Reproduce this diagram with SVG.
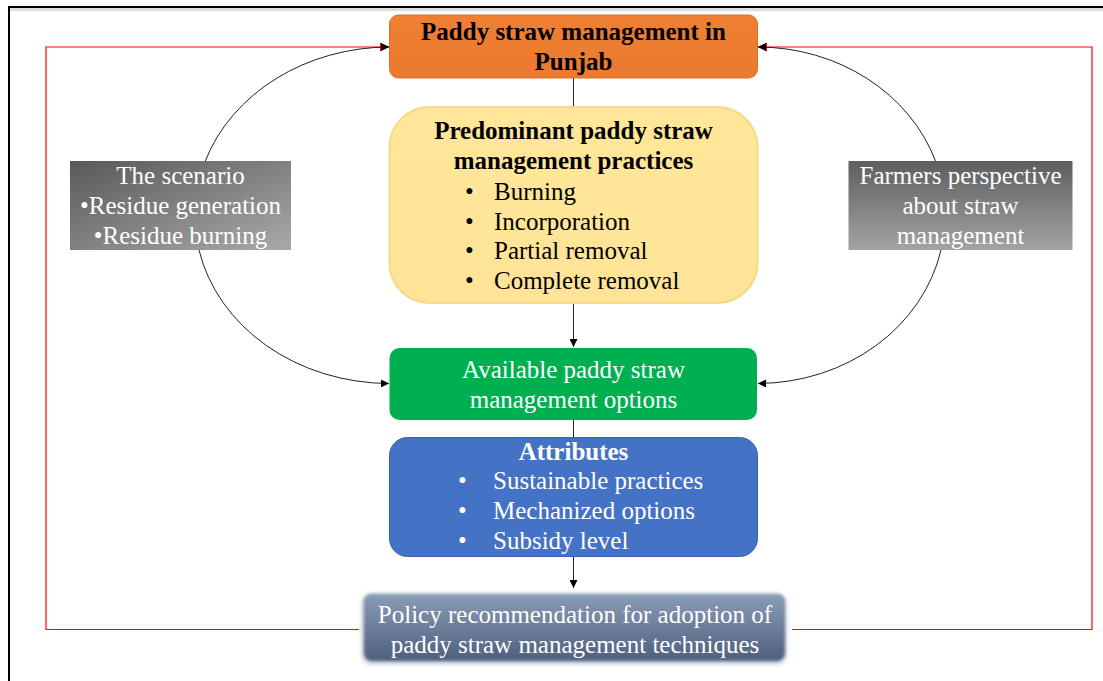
<svg xmlns="http://www.w3.org/2000/svg" width="1103" height="681" viewBox="0 0 1103 681">
<defs>
<style>
.t{font-family:"Liberation Serif","Times New Roman",serif;font-size:25px}
.b{font-weight:bold}
.w{fill:#FFFFFF}
.k{fill:#000000}
.c{text-anchor:middle}
.conn{fill:none;stroke:#222;stroke-width:1}
.red{fill:none;stroke:#FF0000;stroke-width:1.2}
</style>
<marker id="ah" viewBox="0 0 10 10" refX="10" refY="5" markerWidth="8" markerHeight="8" markerUnits="userSpaceOnUse" orient="auto"><path d="M0,0 L10,5 L0,10 z" fill="#000"/></marker>
<marker id="ahr" viewBox="0 0 10 10" refX="10" refY="5" markerWidth="9" markerHeight="9" markerUnits="userSpaceOnUse" orient="auto"><path d="M0,0 L10,5 L0,10 z" fill="#FF0000"/></marker>
<linearGradient id="gl" x1="0" y1="0" x2="1" y2="1"><stop offset="0" stop-color="#595959"/><stop offset="1" stop-color="#A9A9A9"/></linearGradient>
<linearGradient id="gr" x1="0" y1="0" x2="0" y2="1"><stop offset="0" stop-color="#5E5E5E"/><stop offset="1" stop-color="#A3A3A3"/></linearGradient>
<linearGradient id="gp" x1="0" y1="0" x2="0" y2="1"><stop offset="0" stop-color="#8B9CB6"/><stop offset="1" stop-color="#4D5F7C"/></linearGradient>
<linearGradient id="gy" x1="0" y1="0" x2="0" y2="1"><stop offset="0" stop-color="#FFE699"/><stop offset="1" stop-color="#FFE497"/></linearGradient>
<linearGradient id="go" x1="0" y1="0" x2="0" y2="1"><stop offset="0" stop-color="#EE7F33"/><stop offset="1" stop-color="#EA7A2E"/></linearGradient>
<filter id="soft" x="-5%" y="-20%" width="110%" height="140%"><feGaussianBlur stdDeviation="1.6"/></filter>
<filter id="sh" x="-5%" y="-20%" width="110%" height="140%"><feGaussianBlur stdDeviation="2.5"/></filter>
</defs>
<rect x="0" y="0" width="1103" height="681" fill="#FFFFFF"/>
<g id="frame">
<line x1="8" y1="9.5" x2="1103" y2="9.5" stroke="#DDDDDD" stroke-width="3"/>
<line x1="8" y1="7" x2="1103" y2="7" stroke="#000" stroke-width="2"/>
<line x1="9" y1="6" x2="9" y2="681" stroke="#000" stroke-width="2"/>
</g>
<g id="connectors">
<path class="red" d="M359,629.5 H46 V47 H389" marker-end="url(#ahr)"/>
<path class="red" d="M792,629.5 H1092 V47 H758" marker-end="url(#ahr)"/>
<path class="conn" d="M205.3,161 A195,168 0 0 1 389,47" marker-end="url(#ah)"/>
<path class="conn" d="M199,250 A195,168 0 0 0 389,383.5" marker-end="url(#ah)"/>
<path class="conn" d="M935.5,161 A188,168 0 0 0 758,47" marker-end="url(#ah)"/>
<path class="conn" d="M941,250 A188,168 0 0 1 758,383.5" marker-end="url(#ah)"/>
<line class="conn" x1="573.5" y1="77" x2="573.5" y2="108"/>
<line class="conn" x1="573.5" y1="303" x2="573.5" y2="347" marker-end="url(#ah)"/>
<line class="conn" x1="573.5" y1="420" x2="573.5" y2="438"/>
<line class="conn" x1="573.5" y1="556" x2="573.5" y2="588" marker-end="url(#ah)"/>
</g>
<g id="n-title">
<rect x="389.5" y="15" width="368" height="63" rx="9" fill="url(#go)" stroke="#E07025" stroke-width="1"/>
<text class="t b k c" x="573.5" y="40">Paddy straw management in</text>
<text class="t b k c" x="573.5" y="70">Punjab</text>
</g>
<g id="n-practices">
<rect x="389.5" y="107" width="368" height="196" rx="40" fill="url(#gy)" stroke="#F6D986" stroke-width="2"/>
<text class="t b k c" x="573.5" y="139">Predominant paddy straw</text>
<text class="t b k c" x="573.5" y="169">management practices</text>
<text class="t k" x="465" y="200">•</text><text class="t k" x="494" y="200">Burning</text>
<text class="t k" x="465" y="230">•</text><text class="t k" x="494" y="230">Incorporation</text>
<text class="t k" x="465" y="259">•</text><text class="t k" x="494" y="259">Partial removal</text>
<text class="t k" x="465" y="289">•</text><text class="t k" x="494" y="289">Complete removal</text>
</g>
<g id="n-options">
<rect x="389.5" y="348" width="367.5" height="72" rx="10" fill="#00B050"/>
<text class="t w c" x="573.5" y="378">Available paddy straw</text>
<text class="t w c" x="573.5" y="408">management options</text>
</g>
<g id="n-attributes">
<rect x="389.5" y="437.5" width="368" height="119" rx="18" fill="#4472C4" stroke="#3A62AD" stroke-width="1"/>
<text class="t b w c" x="573.5" y="460">Attributes</text>
<text class="t w" x="458" y="489">•</text><text class="t w" x="493" y="489">Sustainable practices</text>
<text class="t w" x="458" y="519">•</text><text class="t w" x="493" y="519">Mechanized options</text>
<text class="t w" x="458" y="549">•</text><text class="t w" x="493" y="549">Subsidy level</text>
</g>
<g id="n-policy">
<rect x="362" y="594" width="424" height="70" rx="9" fill="#8090A8" opacity="0.5" filter="url(#sh)"/>
<rect x="364" y="594" width="421" height="67" rx="8" fill="url(#gp)" filter="url(#soft)"/>
<text class="t w c" x="575" y="623">Policy recommendation for adoption of</text>
<text class="t w c" x="575" y="653">paddy straw management techniques</text>
</g>
<g id="n-scenario">
<rect x="70" y="161" width="221" height="89" fill="url(#gl)"/>
<text class="t w c" x="180.5" y="184">The scenario</text>
<text class="t w c" x="180.5" y="214">•Residue generation</text>
<text class="t w c" x="180.5" y="244">•Residue burning</text>
</g>
<g id="n-farmers">
<rect x="848.5" y="161" width="224" height="89" fill="url(#gr)"/>
<text class="t w c" x="960.5" y="184">Farmers perspective</text>
<text class="t w c" x="960.5" y="214">about straw</text>
<text class="t w c" x="960.5" y="244">management</text>
</g>
</svg>
